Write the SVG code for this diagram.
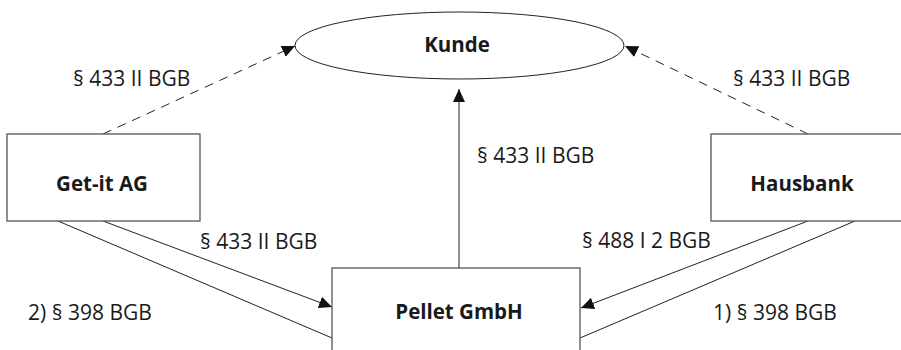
<svg xmlns="http://www.w3.org/2000/svg" width="901" height="350" viewBox="0 0 901 350">
<style>
.box{fill:#fff;stroke:#555;stroke-width:1.3}
.ln{fill:none;stroke:#222;stroke-width:1}
.dash{stroke-dasharray:9,7}
.lbl{font-family:"Open Sans","Liberation Sans",sans-serif;font-size:21px;fill:#1a1a1a}
.nm{font-family:"Open Sans","Liberation Sans",sans-serif;font-size:20.5px;font-weight:bold;fill:#1a1a1a;text-anchor:middle}
</style>
<defs>
<marker id="ah" markerUnits="userSpaceOnUse" markerWidth="14" markerHeight="12" refX="13" refY="6" orient="auto">
<path d="M0,0 L13,6 L0,12 z" fill="#111"/>
</marker>
</defs>
<g id="connectors">
<line class="ln dash" x1="103" y1="134" x2="295" y2="46" marker-end="url(#ah)"/>
<line class="ln dash" x1="808" y1="134" x2="625" y2="46" marker-end="url(#ah)"/>
<line class="ln" x1="459" y1="268" x2="459" y2="89" marker-end="url(#ah)"/>
<line class="ln" x1="103" y1="221" x2="332" y2="307" marker-end="url(#ah)"/>
<line class="ln" x1="58" y1="221" x2="332" y2="338"/>
<line class="ln" x1="808" y1="221" x2="581" y2="308" marker-end="url(#ah)"/>
<line class="ln" x1="855" y1="221" x2="580" y2="338"/>
</g>
<g id="kunde">
<ellipse cx="459.5" cy="45.5" rx="164.5" ry="33.5" fill="#fff" stroke="#222" stroke-width="1"/>
<text class="nm" x="457" y="52">Kunde</text>
</g>
<g id="getit">
<rect class="box" x="7" y="134" width="193" height="87"/>
<text class="nm" x="102" y="191">Get-it AG</text>
</g>
<g id="hausbank">
<rect class="box" x="711" y="134" width="200" height="87"/>
<text class="nm" x="802" y="191">Hausbank</text>
</g>
<g id="pellet">
<rect class="box" x="332" y="268" width="248" height="100"/>
<text class="nm" x="459" y="319">Pellet GmbH</text>
</g>
<g id="labels">
<text class="lbl" x="73" y="86">§ 433 II BGB</text>
<text class="lbl" x="733" y="86">§ 433 II BGB</text>
<text class="lbl" x="477" y="163">§ 433 II BGB</text>
<text class="lbl" x="200" y="249">§ 433 II BGB</text>
<text class="lbl" x="28" y="320">2) § 398 BGB</text>
<text class="lbl" x="582" y="248">§ 488 I 2 BGB</text>
<text class="lbl" x="713" y="320">1) § 398 BGB</text>
</g>
</svg>
